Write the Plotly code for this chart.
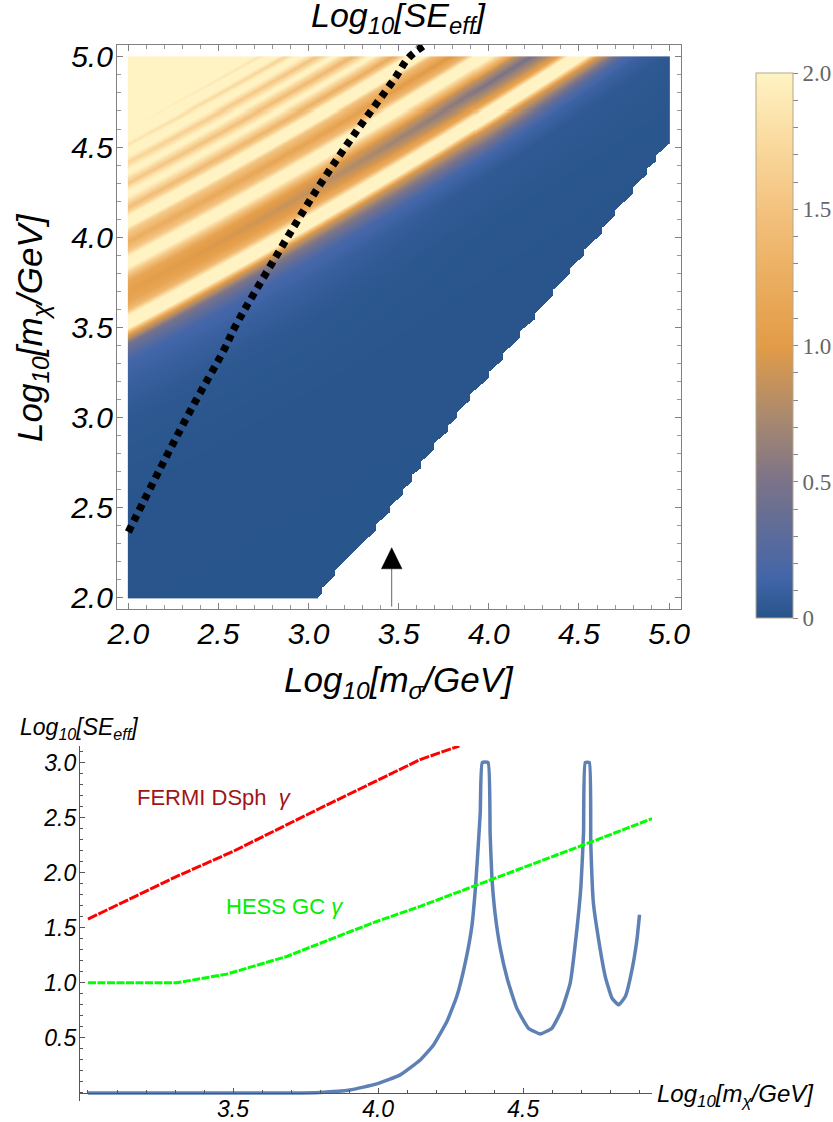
import numpy as np
import plotly.graph_objects as go

# ---------- top panel: values ----------
# centre line of the lowest bright band: y at given x
BAND_X = [2.0, 2.25, 2.5, 2.75, 3.0, 3.25, 3.5, 3.75, 4.0, 4.25, 4.5, 4.75, 5.0]
BAND_Y = [3.531, 3.665, 3.802, 3.942, 4.085, 4.231, 4.380, 4.532, 4.687, 4.845, 5.006, 5.170, 5.337]
# distance above that band (log10 units) and Log10[SE] read along it at x = 2, 3, 4, 5
TRANSECT_X = [2.0, 3.0, 4.0, 5.0]
OFFSET = [-4.0, -1.0, -.555, -.333, -.222, -.167, -.122, -.072, -.035, 0, .035, .07, .11, .167, .225, .268, .303,
          .333, .363, .395, .444, .505, .53, .56, .59, .615, .638, .675, .71, .745, .771, .805, .832, .86, .888,
          .915, .943, .968, .987, 1.012, 1.032, 1.05, 1.07, 1.09, 1.11, 1.13, 1.2, 2.4]
SE_X2 = [0, .01, .03, .10, .15, .30, .45, 1.0, 2.0, 2.3, 2.0, 1.4, 1.15, 1.05, 1.15, 1.55, 2.0,
         2.3, 2.0, 1.55, 1.25, 1.6, 2.0, 2.3, 2.0, 1.65, 1.45, 1.8, 2.1, 1.85, 1.55, 1.85, 2.1, 1.9, 1.7,
         1.95, 2.1, 2.0, 1.85, 2.05, 2.2, 2.1, 1.97, 2.1, 2.2, 2.2, 2.3, 2.3]
SE_X3 = [0, .01, .03, .10, .17, .35, .55, .95, 2.0, 2.3, 2.0, 1.3, 1.0, .85, 1.0, 1.5, 2.0,
         2.3, 2.0, 1.45, 1.1, 1.5, 2.0, 2.3, 2.0, 1.55, 1.3, 1.7, 2.1, 1.7, 1.4, 1.75, 2.1, 1.8, 1.5,
         1.85, 2.1, 1.9, 1.65, 1.95, 2.1, 2.0, 1.8, 2.0, 2.1, 1.9, 2.2, 2.3]
SE_X4 = [0, .01, .02, .05, .15, .40, .65, .95, 2.0, 2.3, 2.0, 1.1, .8, .5, .85, 1.5, 2.0,
         2.3, 2.0, 1.3, .9, 1.4, 2.0, 2.3, 2.0, 1.5, 1.1, 1.6, 2.1, 1.6, 1.2, 1.7, 2.1, 1.7, 1.4,
         1.8, 2.1, 1.9, 1.6, 1.9, 2.1, 2.0, 1.8, 2.0, 2.1, 1.9, 2.2, 2.3]
SE_X5 = [0, .01, .02, .03, .10, .15, .50, 1.0, 2.0, 2.3, 2.0, 1.0, .7, .4, .8, 1.5, 2.0,
         2.3, 2.0, 1.3, .8, 1.4, 2.0, 2.3, 2.0, 1.5, 1.0, 1.6, 2.1, 1.6, 1.2, 1.7, 2.1, 1.7, 1.4,
         1.8, 2.1, 1.9, 1.6, 1.9, 2.1, 2.0, 1.8, 2.0, 2.1, 1.9, 2.2, 2.3]
# stepped lower edge of the computed region
EDGE_X = [3.054, 3.076, 3.076, 3.150, 3.150, 3.374, 3.374, 3.451, 3.451, 3.525, 3.525, 3.575, 3.575, 3.627, 3.627,
          3.697, 3.697, 3.775, 3.775, 3.825, 3.825, 3.899, 3.899, 3.999, 3.999, 4.073, 4.073, 4.172, 4.172,
          4.252, 4.252, 4.352, 4.352, 4.450, 4.450, 4.524, 4.524, 4.626, 4.626, 4.699, 4.699, 4.798, 4.798,
          4.875, 4.875, 4.927, 4.927, 5.0]
EDGE_Y = [2.0, 2.026, 2.054, 2.122, 2.155, 2.373, 2.405, 2.473, 2.506, 2.571, 2.599, 2.645, 2.682, 2.719, 2.756,
          2.821, 2.858, 2.922, 2.954, 2.997, 3.028, 3.098, 3.131, 3.224, 3.255, 3.320, 3.353, 3.446, 3.481,
          3.546, 3.579, 3.677, 3.708, 3.801, 3.832, 3.899, 3.930, 4.023, 4.054, 4.124, 4.152, 4.245, 4.278,
          4.352, 4.383, 4.424, 4.457, 4.522]
CURVE_X = [2.0, 2.176, 2.352, 2.536, 2.592, 2.814, 3.045, 3.258, 3.479, 3.553, 3.646]
CURVE_Y = [2.364, 2.715, 3.052, 3.385, 3.503, 3.884, 4.263, 4.577, 4.882, 4.993, 5.067]
ARROW_SHAFT_X = [3.461, 3.461]
ARROW_SHAFT_Y = [1.95, 2.16]
ARROW_HEAD_X = [3.404, 3.461, 3.518, 3.404]
ARROW_HEAD_Y = [2.16, 2.277, 2.16, 2.16]
COLOR_POS = [0, .075, .25, .375, .5, .625, .75, .875, 1]
COLOR_HEX = ['#27548A', '#4366A9', '#7B7389', '#AC8A6C', '#E39C48', '#EBAE60', '#F3C27F', '#FADA9F', '#FFF3C4']
BAR_TICKS = [round(i * .1, 1) for i in range(21)]
BAR_LABELS = {0: '0', 5: '0.5', 10: '1.0', 15: '1.5', 20: '2.0'}

# ---------- bottom panel: values ----------
FERMI_X = [3.0, 3.306, 3.501, 3.662, 3.8, 3.961, 4.145, 4.28]
FERMI_Y = [1.579, 1.966, 2.194, 2.406, 2.585, 2.791, 3.027, 3.15]
HESS_X = [3.0, 3.306, 3.478, 3.685, 3.846, 3.995, 4.145, 4.392, 4.731, 4.944]
HESS_Y = [1.0, 1.0, 1.079, 1.239, 1.406, 1.557, 1.694, 1.936, 2.275, 2.491]
SE_LINE_X = [3.0, 3.7, 3.8, 3.903, 3.995, 4.076, 4.145, 4.191, 4.237, 4.271, 4.300, 4.323, 4.334, 4.342, 4.352, 4.359,
             4.379, 4.386, 4.392, 4.403, 4.421, 4.446, 4.478, 4.518, 4.559, 4.599, 4.633, 4.662, 4.685, 4.699,
             4.708, 4.714, 4.728, 4.733, 4.742, 4.760, 4.783, 4.806, 4.829, 4.852, 4.875, 4.892, 4.901]
SE_LINE_Y = [0, 0, .005, .027, .082, .164, .30, .436, .648, .875, 1.179, 1.512, 1.815, 2.118, 2.543, 3.0,
             3.0, 2.36, 1.966, 1.633, 1.315, 1.027, .77, .588, .536, .588, .755, .997, 1.482, 1.875,
             2.361, 3.0, 3.0, 2.27, 1.725, 1.391, 1.057, .861, .8, .875, 1.118, 1.391, 1.618]

W, H = 833, 1122
gx = np.linspace(2, 5, 541)
gy = np.linspace(2, 5, 541)
table = np.array([SE_X2, SE_X3, SE_X4, SE_X5])
z = np.full((gy.size, gx.size), np.nan)
for j, x in enumerate(gx):
    vals = [np.interp(x, TRANSECT_X, table[:, k]) for k in range(len(OFFSET))]
    col = np.interp(gy - np.interp(x, BAND_X, BAND_Y), OFFSET, vals)
    low = np.interp(x, EDGE_X, EDGE_Y) if x >= EDGE_X[0] else 2.0
    col[gy < low] = np.nan
    z[:, j] = col

colorscale = [[p, c] for p, c in zip(COLOR_POS, COLOR_HEX)]
fig = go.Figure()
fig.add_trace(go.Heatmap(
    x=gx, y=gy, z=z, zmin=0, zmax=2, colorscale=colorscale, hoverinfo='skip',
    colorbar=dict(x=756 / W, xanchor='left', xpad=0, y=1 - 73 / H, yanchor='top', ypad=0,
                  lenmode='pixels', len=545, thickness=37, thicknessmode='pixels',
                  outlinecolor='#b5a78c', outlinewidth=1, ticks='outside', ticklen=5, tickcolor='#888',
                  tickvals=BAR_TICKS,
                  ticktext=[BAR_LABELS.get(i, '') for i in range(21)],
                  tickfont=dict(family='Liberation Serif', size=23, color='#666666')),
))
fig.add_trace(go.Scatter(x=CURVE_X, y=CURVE_Y, mode='lines',
                         line=dict(color='black', width=7.5, dash='6.5px,5.5px', shape='spline'), hoverinfo='skip'))
fig.add_trace(go.Scatter(x=ARROW_SHAFT_X, y=ARROW_SHAFT_Y, mode='lines', line=dict(color='#666', width=1), hoverinfo='skip'))
fig.add_trace(go.Scatter(x=ARROW_HEAD_X, y=ARROW_HEAD_Y, mode='lines', fill='toself', fillcolor='black',
                         line=dict(color='black', width=0.5), hoverinfo='skip'))
fig.add_trace(go.Scatter(x=SE_LINE_X, y=SE_LINE_Y, mode='lines', xaxis='x2', yaxis='y2',
                         line=dict(color='#5E81B5', width=3.5, shape='spline', smoothing=0.4), hoverinfo='skip'))
fig.add_trace(go.Scatter(x=FERMI_X, y=FERMI_Y, mode='lines', xaxis='x2', yaxis='y2',
                         line=dict(color='#FF0000', width=3, dash='10px,1.5px'), hoverinfo='skip'))
fig.add_trace(go.Scatter(x=HESS_X, y=HESS_Y, mode='lines', xaxis='x2', yaxis='y2',
                         line=dict(color='#00FF00', width=3, dash='8px,1.5px'), hoverinfo='skip'))

itfont = dict(family='Liberation Sans', size=30, color='black', style='italic')
frame = dict(showline=True, linecolor='#808080', linewidth=1.2, mirror='allticks', ticks='inside', ticklen=6,
             tickcolor='#808080', tickwidth=1, tick0=2, dtick=.5, tickformat='.1f', showgrid=False, zeroline=False,
             minor=dict(ticks='inside', ticklen=3.5, tickcolor='#999999', tick0=2, dtick=.1, showgrid=False),
             tickfont=itfont)
low_axis = dict(showline=True, linecolor='#555555', linewidth=1.2, ticks='inside', ticklen=5, tickcolor='#555555',
                tickwidth=1, tickformat='.1f', showgrid=False, zeroline=False,
                tickfont=dict(family='Liberation Sans', size=23, color='black', style='italic'))

fig.update_layout(
    width=W, height=H, margin=dict(l=0, r=0, t=0, b=0, autoexpand=False), paper_bgcolor='white', plot_bgcolor='white',
    showlegend=False,
    xaxis=dict(domain=[117 / W, 681 / W], range=[1.937, 5.066], anchor='y', ticklabelstandoff=-2, **frame),
    yaxis=dict(domain=[1 - 609 / H, 1 - 45 / H], range=[1.937, 5.066], anchor='x', ticklabelstandoff=-3, **frame),
    xaxis2=dict(domain=[79 / W, 652 / W], range=[2.969, 4.944], anchor='free', position=1 - 1093 / H,
                tickvals=[3.5, 4, 4.5],
                minor=dict(ticks='inside', ticklen=3, tickcolor='#555555', tick0=3, dtick=.1, showgrid=False),
                ticklabelstandoff=-5, **low_axis),
    yaxis2=dict(domain=[1 - 1101 / H, 1 - 746 / H], range=[-.073, 3.15], anchor='free', position=79 / W,
                tickvals=[.5, 1, 1.5, 2, 2.5, 3], ticklabelstandoff=-2,
                minor=dict(ticks='inside', ticklen=3, tickcolor='#555555', tick0=0, dtick=.1, showgrid=False),
                **low_axis),
)

def label(text, px, py, size, color='black', angle=0, anchor='center', italic=True):
    font = dict(family='Liberation Sans', size=size, color=color)
    if italic:
        font['style'] = 'italic'
    fig.add_annotation(xref='paper', yref='paper', x=px / W, y=1 - py / H, text=text, showarrow=False,
                       textangle=angle, xanchor=anchor, yanchor='middle', font=font)

label('Log<sub>10</sub>[SE<sub>eff</sub>]', 399, 18, 34)
label('Log<sub>10</sub>[m<sub>σ</sub>/GeV]', 399, 682, 35)
label('Log<sub>10</sub>[m<sub>χ</sub>/GeV]', 32, 328, 35, angle=-90)
label('Log<sub>10</sub>[SE<sub>eff</sub>]', 79, 728, 23)
label('Log<sub>10</sub>[m<sub>χ</sub>/GeV]', 735, 1095, 24)
label('FERMI DSph  <i>γ</i>', 214, 797, 22, color='#A01515', italic=False)
label('HESS GC <i>γ</i>', 285, 906, 22, color='#00EE00', italic=False)

fig.write_html('out.html', post_script="document.body.style.margin='0';", config=dict(displayModeBar=False))
